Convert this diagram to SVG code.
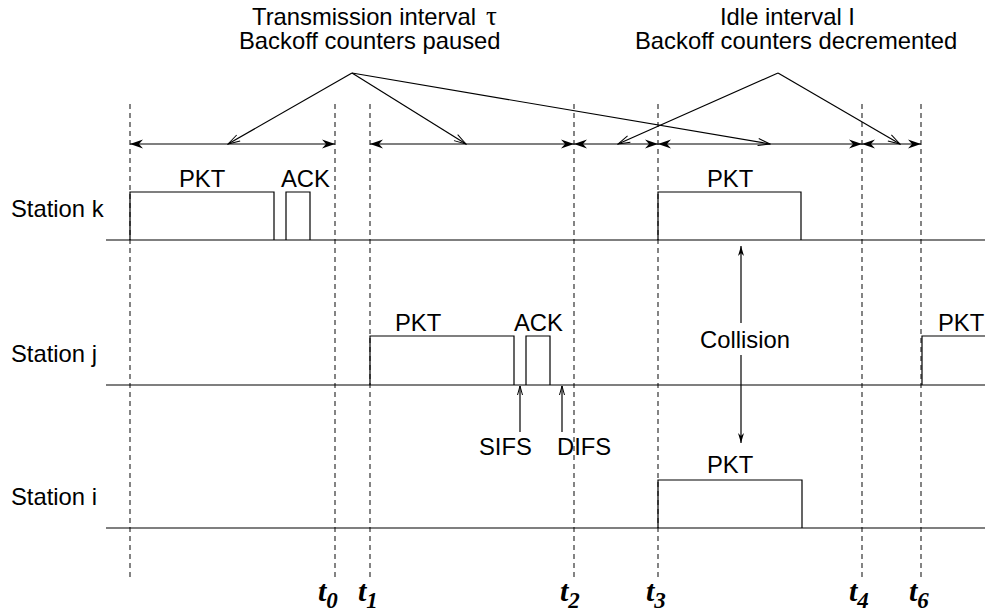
<svg xmlns="http://www.w3.org/2000/svg" width="985" height="615" viewBox="0 0 985 615">
<style>
.t{font-family:"Liberation Sans",Arial,sans-serif;font-size:23.8px;fill:#000}
.tm{font-family:"Liberation Serif","Times New Roman",serif;font-weight:bold;font-style:italic;font-size:30px;fill:#000}
.sub{font-size:23px}
.ln{stroke:#000;stroke-width:1.2;fill:none}
.dash{stroke:#333;stroke-width:1.2;stroke-dasharray:5 4;fill:none}
.pulse{stroke:#000;stroke-width:1.2;fill:none}
</style>
<defs>
<marker id="fa" viewBox="-14 -5 15 10" refX="0" refY="0" markerWidth="15" markerHeight="10" markerUnits="userSpaceOnUse" orient="auto-start-reverse">
<path d="M0,0 L-13,-4.5 L-9,0 L-13,4.5 Z" fill="#000"/>
</marker>
<marker id="fs" viewBox="-11 -4 12 8" refX="0" refY="0" markerWidth="12" markerHeight="8" markerUnits="userSpaceOnUse" orient="auto-start-reverse">
<path d="M0,0 L-10,-3 L-7,0 L-10,3 Z" fill="#000"/>
</marker>
<marker id="oa" viewBox="-13 -5 14 10" refX="0" refY="0" markerWidth="14" markerHeight="10" markerUnits="userSpaceOnUse" orient="auto">
<path d="M-12,-3.5 L0,0 L-12,3.5" fill="none" stroke="#000" stroke-width="1"/>
</marker>
<marker id="os" viewBox="-11 -4 12 8" refX="0" refY="0" markerWidth="12" markerHeight="8" markerUnits="userSpaceOnUse" orient="auto">
<path d="M-9,-2.5 L0,0 L-9,2.5" fill="none" stroke="#000" stroke-width="1"/>
</marker>
</defs>
<rect width="985" height="615" fill="#fff"/>

<g id="time-markers">
<line class="dash" x1="130" y1="104" x2="130" y2="578"/>
<line class="dash" x1="335" y1="104" x2="335" y2="578"/>
<line class="dash" x1="370" y1="104" x2="370" y2="578"/>
<line class="dash" x1="574" y1="104" x2="574" y2="578"/>
<line class="dash" x1="658" y1="104" x2="658" y2="578"/>
<line class="dash" x1="862" y1="104" x2="862" y2="578"/>
<line class="dash" x1="921" y1="104" x2="921" y2="578"/>
<text class="tm" x="318" y="601">t<tspan class="sub" dy="7">0</tspan></text>
<text class="tm" x="358" y="601">t<tspan class="sub" dy="7">1</tspan></text>
<text class="tm" x="560" y="601">t<tspan class="sub" dy="7">2</tspan></text>
<text class="tm" x="646" y="601">t<tspan class="sub" dy="7">3</tspan></text>
<text class="tm" x="849" y="601">t<tspan class="sub" dy="7">4</tspan></text>
<text class="tm" x="909" y="601">t<tspan class="sub" dy="7">6</tspan></text>
</g>

<g id="label-transmission">
<text class="t" x="252" y="25">Transmission interval<tspan x="486" font-family="Liberation Serif,serif" font-size="27">τ</tspan></text>
<text class="t" x="239" y="49">Backoff counters paused</text>
</g>

<g id="label-idle">
<text class="t" x="720" y="25">Idle interval I</text>
<text class="t" x="635" y="49">Backoff counters decremented</text>
</g>

<g id="station-k">
<text class="t" x="11" y="217">Station k</text>
<line class="ln" x1="106" y1="240" x2="985" y2="240"/>
<polyline class="pulse" points="130,240 130,192 274,192 274,240"/>
<polyline class="pulse" points="286,240 286,192 310,192 310,240"/>
<polyline class="pulse" points="658,240 658,192 801,192 801,240"/>
<text class="t" x="179" y="187">PKT</text>
<text class="t" x="281" y="187">ACK</text>
<text class="t" x="707" y="187">PKT</text>
</g>

<g id="station-j">
<text class="t" x="11" y="362">Station j</text>
<line class="ln" x1="106" y1="385" x2="985" y2="385"/>
<polyline class="pulse" points="370,385 370,336 514,336 514,385"/>
<polyline class="pulse" points="526,385 526,336 550,336 550,385"/>
<polyline class="pulse" points="922,385 922,336 985,336"/>
<text class="t" x="395" y="331">PKT</text>
<text class="t" x="514" y="331">ACK</text>
<text class="t" x="938" y="331">PKT</text>
<text class="t" x="479" y="455">SIFS</text>
<text class="t" x="557" y="455">DIFS</text>
</g>

<g id="station-i">
<text class="t" x="11" y="505">Station i</text>
<line class="ln" x1="106" y1="528" x2="985" y2="528"/>
<polyline class="pulse" points="658,528 658,480 802,480 802,528"/>
<text class="t" x="707" y="473">PKT</text>
</g>

<g id="collision">
<text class="t" x="700" y="348">Collision</text>
</g>

<g id="connectors">
<line class="ln" x1="130" y1="144" x2="335" y2="144" marker-start="url(#fa)" marker-end="url(#fa)"/>
<line class="ln" x1="370" y1="144" x2="574" y2="144" marker-start="url(#fa)" marker-end="url(#fa)"/>
<line class="ln" x1="574" y1="144" x2="658" y2="144" marker-start="url(#fa)" marker-end="url(#fa)"/>
<line class="ln" x1="658" y1="144" x2="862" y2="144" marker-start="url(#fa)" marker-end="url(#fa)"/>
<line class="ln" x1="862" y1="144" x2="921" y2="144" marker-start="url(#fa)" marker-end="url(#fa)"/>
<line class="ln" x1="352" y1="73" x2="228" y2="144" marker-end="url(#oa)"/>
<line class="ln" x1="352" y1="73" x2="466" y2="144" marker-end="url(#oa)"/>
<line class="ln" x1="352" y1="73" x2="770" y2="144" marker-end="url(#oa)"/>
<line class="ln" x1="778" y1="73" x2="618" y2="144" marker-end="url(#oa)"/>
<line class="ln" x1="778" y1="73" x2="900" y2="144" marker-end="url(#oa)"/>
<line class="ln" x1="741" y1="323" x2="741" y2="246" marker-end="url(#fs)"/>
<line class="ln" x1="741" y1="355" x2="741" y2="443" marker-end="url(#fs)"/>
<line class="ln" x1="520" y1="432" x2="520" y2="386" marker-end="url(#os)"/>
<line class="ln" x1="562" y1="432" x2="562" y2="386" marker-end="url(#os)"/>
</g>
</svg>
